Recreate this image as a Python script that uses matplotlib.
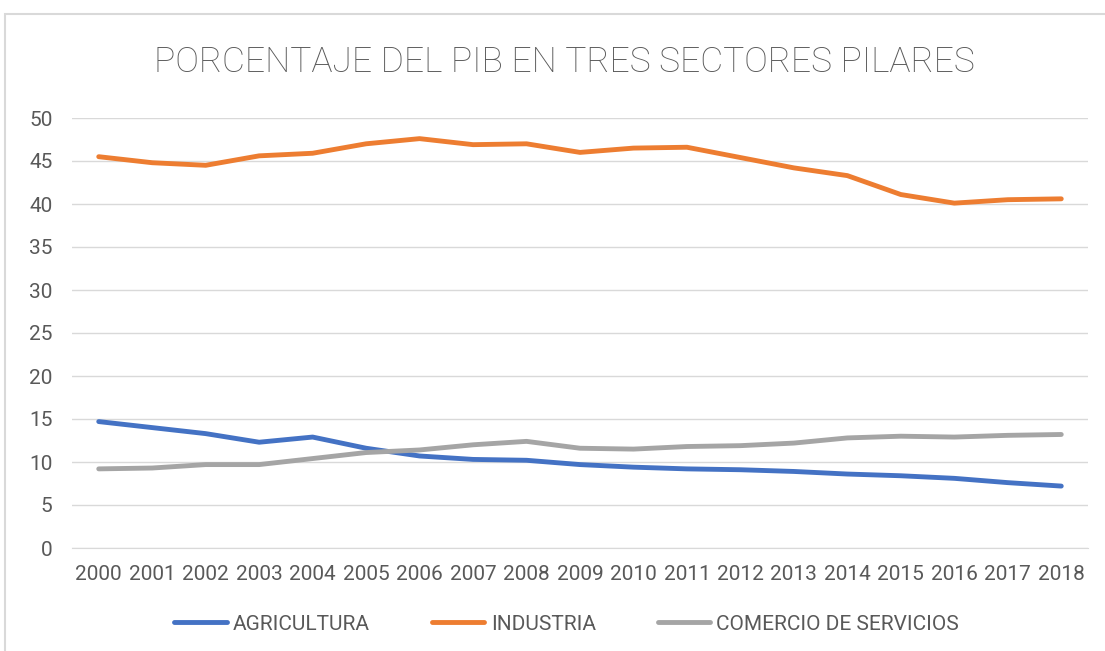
import numpy as np
import matplotlib.pyplot as plt
from matplotlib.patches import Rectangle

plt.rcParams['font.family'] = ['Roboto', 'DejaVu Sans']

years = [str(y) for y in range(2000, 2019)]
agricultura = [14.7, 14.0, 13.3, 12.3, 12.9, 11.6, 10.7, 10.3, 10.2, 9.7, 9.4, 9.2, 9.1, 8.9, 8.6, 8.4, 8.1, 7.6, 7.2]
industria = [45.5, 44.8, 44.5, 45.6, 45.9, 47.0, 47.6, 46.9, 47.0, 46.0, 46.5, 46.6, 45.4, 44.2, 43.3, 41.1, 40.1, 40.5, 40.6]
servicios = [9.2, 9.3, 9.7, 9.7, 10.4, 11.1, 11.4, 12.0, 12.4, 11.6, 11.5, 11.8, 11.9, 12.2, 12.8, 13.0, 12.9, 13.1, 13.2]

fig = plt.figure(figsize=(11.05, 6.51), dpi=100)
fig.patches.append(Rectangle((5/1105, -0.1), 1.2, 1 - 14/651 + 0.1, transform=fig.transFigure,
                             fill=False, edgecolor='#d9d9d9', linewidth=1.5))
ax = fig.add_axes([72/1105, 1 - 548/651, (1088-72)/1105, (548-118)/651])

x = np.arange(len(years))
ax.plot(x, agricultura, color='#4472c4', lw=3.5, solid_capstyle='round', label='AGRICULTURA')
ax.plot(x, industria, color='#ed7d31', lw=3.5, solid_capstyle='round', label='INDUSTRIA')
ax.plot(x, servicios, color='#a5a5a5', lw=3.5, solid_capstyle='round', label='COMERCIO DE SERVICIOS')

ax.set_xlim(-0.5, len(years) - 0.5)
ax.set_ylim(0, 50)
ax.set_yticks(range(0, 51, 5))
ax.set_xticks(x)
ax.set_xticklabels(years)
ax.grid(axis='y', color='#d9d9d9', lw=1)
ax.set_axisbelow(True)
for s in ['top', 'right', 'left']:
    ax.spines[s].set_visible(False)
ax.spines['bottom'].set_color('#d9d9d9')
ax.tick_params(length=0, labelsize=15, labelcolor='#595959')
ax.tick_params(axis='y', pad=14)
ax.tick_params(axis='x', pad=12)

fig.text(0.511, 1 - 62/651, 'PORCENTAJE DEL PIB EN TRES SECTORES PILARES', ha='center', va='center',
         fontsize=25.5, color='#595959', fontweight='light')
fig.legend(loc='center', bbox_to_anchor=(0.513, 1 - 624/651), ncol=3, frameon=False,
           fontsize=15, labelcolor='#595959', handlelength=2.5, handletextpad=0.3, columnspacing=3.0)

plt.savefig('out.png', dpi=100)
